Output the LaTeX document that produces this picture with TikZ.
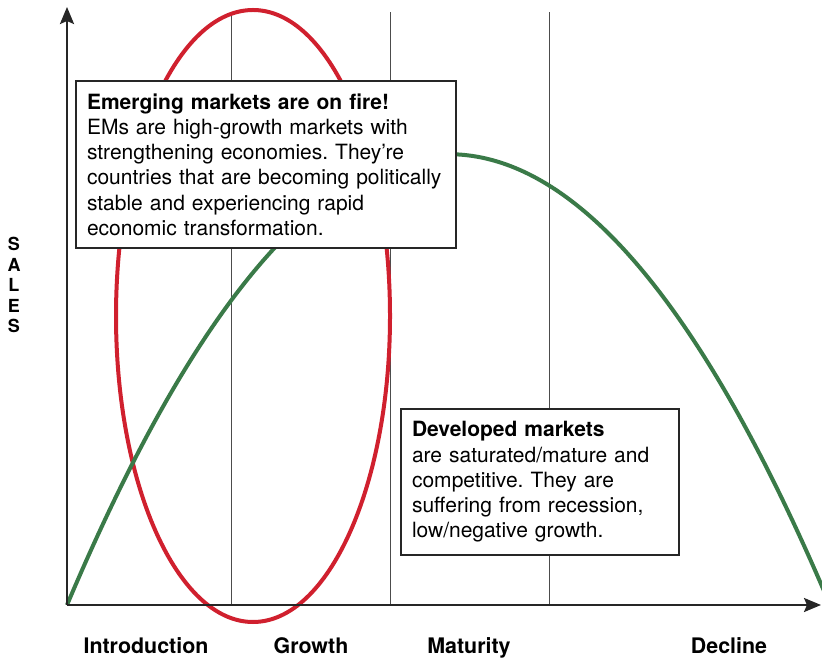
\documentclass[tikz,border=0pt]{standalone}
\usepackage{fontspec}
\setmainfont{TeX Gyre Heros}
\usepackage{tikz}
\usetikzlibrary{arrows.meta}

\definecolor{emred}{RGB}{208,32,46}
\definecolor{plcgreen}{RGB}{58,122,72}

\newcommand{\boxfont}{\fontsize{10.5}{12.6}\selectfont\frenchspacing\hyphenpenalty=10000\relax}

\tikzset{
	axis/.style = {line width = 1.25pt, black!85, -{Stealth[length=8.5pt, width=7pt, inset=1.5pt]}},
	stage/.style = {line width = 0.5pt, black!70},
	infobox/.style = {draw = black!85, line width = 1pt, fill = white, align = left,
		anchor = north west, inner xsep = 5.5pt, inner ysep = 6.3pt, font = \boxfont},
	stagelabel/.style = {anchor = base, font = \fontsize{10.7}{12}\selectfont\bfseries}
}

\begin{document}
\begin{tikzpicture}[x = 0.5pt, y = 0.5pt]
\useasboundingbox (-67,-53) rectangle (755,605);

\coordinate (O) at (0,0);
\coordinate (ytop) at (0,598);
\coordinate (xend) at (754,0);

% stage separators
\foreach \s/\u in {a/164, b/323, c/482}
	\draw[stage] (\u,0) coordinate (sep\s) -- (\u,593);

% emerging markets ring
\draw[emred, line width = 2pt] (186,289) ellipse [x radius = 137, y radius = 306];

% product life cycle
\draw[plcgreen, line width = 2pt, domain = 0:760, variable = \u, samples = 200]
	plot ({\u}, {0.0031*\u*(763-\u)});

\draw[axis] (O) -- (ytop);
\draw[axis] (O) -- (xend);

\node[infobox, text width = 179pt] (emerging) at (8,525) {\textbf{Emerging markets are on fire!}\\
EMs are high-growth markets with\\
strengthening economies. They’re\\
countries that are becoming politically\\
stable and experiencing rapid\\
economic transformation.};

\node[infobox, text width = 128pt] (developed) at (333,197) {\textbf{Developed markets}\\
are saturated/mature and\\
competitive. They are\\
suffering from recession,\\
low/negative growth.};

\foreach \name/\u/\txt in {intro/79/Introduction, growth/244/Growth, maturity/402/Maturity, decline/662/Decline}
	\node[stagelabel] (\name) at (\u,-48) {\txt};

\node[align = center, font = \fontsize{9}{10.25}\selectfont\bfseries] (sales) at (-53,320) {S\\A\\L\\E\\S};
\end{tikzpicture}
\end{document}
